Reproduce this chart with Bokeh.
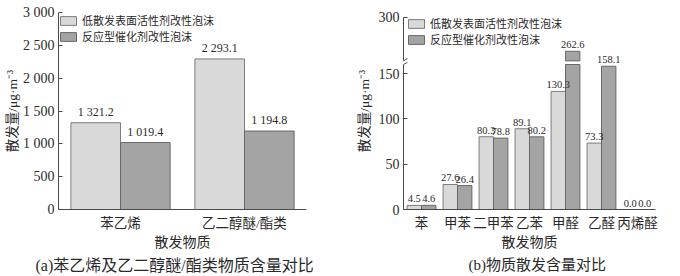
import numpy as np
from bokeh.plotting import figure
from bokeh.models import (ColumnDataSource, FactorRange, Range1d, FixedTicker,
                          LinearAxis, Title, Arrow)
from bokeh.transform import dodge
from bokeh.layouts import row
from bokeh.embed import file_html
from bokeh.resources import INLINE
from bokeh.core.properties import value

# ---------------- data ----------------
series_names = ["低散发表面活性剂改性泡沫", "反应型催化剂改性泡沫"]

left_categories = ["苯乙烯", "乙二醇醚/酯类"]
left_low = [1321.2, 2293.1]
left_react = [1019.4, 1194.8]
left_yticks = [0, 500, 1000, 1500, 2000, 2500, 3000]
left_ytick_labels = ["0", "500", "1 000", "1 500", "2 000", "2 500", "3 000"]

right_categories = ["苯", "甲苯", "二甲苯", "乙苯", "甲醛", "乙醛", "丙烯醛"]
right_low = [4.5, 27.6, 80.3, 89.1, 130.3, 73.3, 0.0]
right_react = [4.6, 26.4, 78.8, 80.2, 262.6, 158.1, 0.0]
right_yticks_low = [0, 50, 100, 150]
right_ytick_top = 300

x_label = "散发物质"
y_label = "散发量/μg·m⁻³"
caption_a = "(a)苯乙烯及乙二醇醚/酯类物质含量对比"
caption_b = "(b)物质散发含量对比"

# ---------------- style ----------------
FONT = "'Liberation Serif', 'Noto Sans CJK SC', serif"
LIGHT, LIGHT_LINE = "#d9d9d9", "#7d7d7d"
DARK, DARK_LINE = "#a4a4a4", "#686868"
TEXT = "#2a2a2a"
AXIS = "#4a4a4a"
DODGE = 0.2
BAR_W = 0.4

# broken axis parameters for panel (b)
BREAK_LOW = 160      # lower segment ends (lower scale)
BREAK_HIGH = 252     # upper segment starts (upper scale)
UP_SHIFT = 88        # upper scale = lower scale + shift
TOP_VALUE = 305.4    # upper range end (a little above the 300 tick)
LOW_END = TOP_VALUE - UP_SHIFT


def fmt_space(v):
    return f"{v:,.1f}".replace(",", " ")


def base_style(p):
    p.xgrid.grid_line_color = None
    p.ygrid.grid_line_color = None
    p.outline_line_color = None
    p.background_fill_color = "white"
    p.border_fill_color = "white"


def style_value_axis(ax, label_standoff):
    ax.axis_line_color = AXIS
    ax.major_tick_line_color = AXIS
    ax.major_tick_in = 4
    ax.major_tick_out = 0
    ax.minor_tick_line_color = None
    ax.major_label_standoff = 4
    ax.major_label_text_font = FONT
    ax.major_label_text_font_size = "14px"
    ax.major_label_text_color = TEXT
    ax.axis_label = y_label
    ax.axis_label_standoff = label_standoff
    ax.axis_label_text_font = FONT
    ax.axis_label_text_font_size = "13.5px"
    ax.axis_label_text_font_style = "normal"
    ax.axis_label_text_line_height = 1.0
    ax.axis_label_text_color = TEXT


def style_cat_axis(ax):
    ax.axis_line_color = AXIS
    ax.major_tick_line_color = None
    ax.major_tick_in = 0
    ax.major_tick_out = 0
    ax.major_label_standoff = 6
    ax.major_label_text_font = FONT
    ax.major_label_text_font_size = "13.5px"
    ax.major_label_text_color = TEXT
    ax.axis_label = x_label
    ax.axis_label_standoff = 1
    ax.axis_label_text_font = FONT
    ax.axis_label_text_font_size = "14px"
    ax.axis_label_text_font_style = "normal"
    ax.axis_label_text_color = TEXT


def style_legend(p, margin):
    lg = p.legend[0]
    lg.location = "top_left"
    lg.border_line_color = None
    lg.background_fill_alpha = 0
    lg.label_text_font = FONT
    lg.label_text_font_size = "11px"
    lg.label_text_color = TEXT
    lg.glyph_width = 20
    lg.glyph_height = 11
    lg.label_height = 11
    lg.spacing = 0
    lg.padding = 2
    lg.margin = margin
    lg.label_standoff = 4


def add_caption(p, text, size, offset):
    p.add_layout(Title(text=text, align="left", offset=offset, standoff=5,
                       text_font=FONT, text_font_size=size, text_font_style="normal",
                       text_color=TEXT), "below")


# ---------------- panel (a) ----------------
p1 = figure(width=340, height=276, output_backend="svg", toolbar_location=None,
            x_range=FactorRange(factors=left_categories), y_range=Range1d(0, 3000),
            min_border_left=58, min_border_right=34, min_border_top=12,
            min_border_bottom=65)
base_style(p1)

src1 = ColumnDataSource(dict(cat=left_categories, low=left_low, react=left_react,
                             low_lbl=[fmt_space(v) for v in left_low],
                             react_lbl=[fmt_space(v) for v in left_react]))
p1.vbar(x=dodge("cat", -DODGE, range=p1.x_range), top="low", width=BAR_W, source=src1,
        fill_color=LIGHT, line_color=LIGHT_LINE, line_width=1, legend_label=series_names[0])
p1.vbar(x=dodge("cat", DODGE, range=p1.x_range), top="react", width=BAR_W, source=src1,
        fill_color=DARK, line_color=DARK_LINE, line_width=1, legend_label=series_names[1])
for col, lbl, dx in (("low", "low_lbl", -DODGE), ("react", "react_lbl", DODGE)):
    p1.text(x=dodge("cat", dx, range=p1.x_range), y=col, text=lbl, source=src1,
            text_align="center", text_baseline="bottom", y_offset=-4,
            text_font=value(FONT), text_font_size="12px", text_color=TEXT)

p1.yaxis.ticker = FixedTicker(ticks=left_yticks)
p1.yaxis.major_label_overrides = {t: s for t, s in zip(left_yticks, left_ytick_labels)}
style_value_axis(p1.yaxis[0], 0)
style_cat_axis(p1.xaxis[0])
style_legend(p1, 0)
add_caption(p1, caption_a, "16px", -23)

# ---------------- panel (b) ----------------
p2 = figure(width=340, height=276, output_backend="svg", toolbar_location=None,
            x_range=FactorRange(factors=right_categories), y_range=Range1d(0, LOW_END),
            y_axis_location=None,
            min_border_left=63, min_border_right=25, min_border_top=8,
            min_border_bottom=63)
p2.extra_y_ranges = {"upper": Range1d(UP_SHIFT, TOP_VALUE)}
base_style(p2)

low_arr = np.array(right_low)
react_arr = np.array(right_react)
src2 = ColumnDataSource(dict(cat=right_categories,
                             low_top=np.minimum(low_arr, BREAK_LOW),
                             react_top=np.minimum(react_arr, BREAK_LOW)))
p2.vbar(x=dodge("cat", -DODGE, range=p2.x_range), top="low_top", width=BAR_W, source=src2,
        fill_color=LIGHT, line_color=LIGHT_LINE, line_width=1, legend_label=series_names[0])
p2.vbar(x=dodge("cat", DODGE, range=p2.x_range), top="react_top", width=BAR_W, source=src2,
        fill_color=DARK, line_color=DARK_LINE, line_width=1, legend_label=series_names[1])

for vals, dx, fc, lc in ((right_low, -DODGE, LIGHT, LIGHT_LINE),
                         (right_react, DODGE, DARK, DARK_LINE)):
    up_idx = [i for i, v in enumerate(vals) if v > BREAK_HIGH]
    lo_idx = [i for i, v in enumerate(vals) if v <= BREAK_LOW]
    if up_idx:
        su = ColumnDataSource(dict(cat=[right_categories[i] for i in up_idx],
                                   top=[vals[i] for i in up_idx],
                                   lbl=[f"{vals[i]:.1f}" for i in up_idx]))
        p2.vbar(x=dodge("cat", dx, range=p2.x_range), bottom=BREAK_HIGH, top="top",
                width=BAR_W, source=su, fill_color=fc, line_color=lc, line_width=1,
                y_range_name="upper")
        p2.text(x=dodge("cat", dx, range=p2.x_range), y="top", text="lbl", source=su,
                y_range_name="upper", text_align="center", text_baseline="bottom",
                y_offset=-3, text_font=value(FONT), text_font_size="10.5px",
                text_color=TEXT)
    sl = ColumnDataSource(dict(cat=[right_categories[i] for i in lo_idx],
                               top=[vals[i] for i in lo_idx],
                               lbl=[f"{vals[i]:.1f}" for i in lo_idx]))
    p2.text(x=dodge("cat", dx, range=p2.x_range), y="top", text="lbl", source=sl,
            text_align="center", text_baseline="bottom", y_offset=-3,
            text_font=value(FONT), text_font_size="10.5px", text_color=TEXT)

# broken value axis: two bare line segments + one labelled axis without line
seg_low = LinearAxis(bounds=(0, BREAK_LOW), ticker=FixedTicker(ticks=[]),
                     major_label_standoff=0, major_tick_in=0, major_tick_out=0,
                     axis_line_color=AXIS, minor_tick_line_color=None)
seg_up = LinearAxis(y_range_name="upper", bounds=(BREAK_HIGH, right_ytick_top),
                    ticker=FixedTicker(ticks=[]), major_label_standoff=0,
                    major_tick_in=0, major_tick_out=0, axis_line_color=AXIS,
                    minor_tick_line_color=None)
main_ax = LinearAxis(y_range_name="upper",
                     ticker=FixedTicker(ticks=[v + UP_SHIFT for v in right_yticks_low]
                                        + [right_ytick_top]))
main_ax.major_label_overrides = {v + UP_SHIFT: str(v) for v in right_yticks_low}
style_value_axis(main_ax, 4)
main_ax.axis_line_color = None
p2.add_layout(seg_low, "left")
p2.add_layout(seg_up, "left")
p2.add_layout(main_ax, "left")

# axis break marks
for yc in (BREAK_LOW, BREAK_HIGH - UP_SHIFT):
    p2.add_layout(Arrow(x_start=-0.11, y_start=yc - 2.5, x_end=0.11, y_end=yc + 2.5,
                        start=None, end=None, line_color=AXIS, line_width=1), "left")

style_cat_axis(p2.xaxis[0])
style_legend(p2, 3)
add_caption(p2, caption_b, "15px", 65)

layout = row(p1, p2, spacing=0)
open("out.html", "w").write(file_html(layout, INLINE))
